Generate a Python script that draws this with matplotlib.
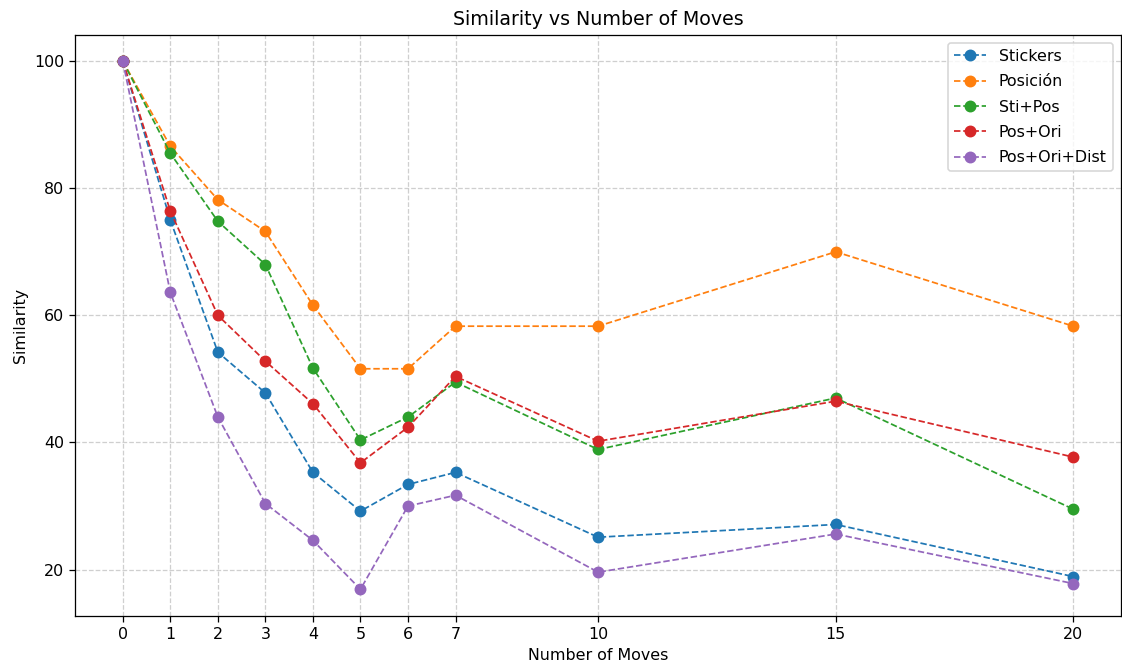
import matplotlib
matplotlib.use('Agg')
import matplotlib.pyplot as plt

# moves and similarity for each method
moves = [0, 1, 2, 3, 4, 5, 6, 7, 10, 15, 20]

stickers = [100, 75.0, 54.2, 47.8, 35.3, 29.2, 33.4, 35.3, 25.1, 27.1, 18.9]
posicion = [100, 86.6, 78.2, 73.2, 61.6, 51.6, 51.6, 58.3, 58.3, 70.0, 58.3]
sti_pos = [100, 85.5, 74.8, 68.0, 51.7, 40.4, 44.0, 49.5, 38.9, 47.0, 29.5]
pos_ori = [100, 76.4, 60.0, 52.8, 46.1, 36.8, 42.4, 50.4, 40.2, 46.5, 37.7]
pos_ori_dist = [100, 63.6, 44.0, 30.4, 24.6, 16.9, 30.0, 31.7, 19.6, 25.6, 17.8]

series = [
    ('Stickers', stickers),
    ('Posición', posicion),
    ('Sti+Pos', sti_pos),
    ('Pos+Ori', pos_ori),
    ('Pos+Ori+Dist', pos_ori_dist),
]

DPI = 114
fig, ax = plt.subplots(figsize=(1122 / DPI, 664 / DPI), dpi=DPI)
fig.subplots_adjust(left=0.0671, right=0.999, top=0.9477, bottom=0.0727)

for name, vals in series:
    ax.plot(moves, vals, marker='o', linestyle='--', linewidth=1.1, markersize=6.5, label=name)

ax.set_xticks(moves)
ax.set_title('Similarity vs Number of Moves')
ax.set_xlabel('Number of Moves')
ax.set_ylabel('Similarity')
ax.grid(True, linestyle='--', alpha=0.6)
ax.legend(loc='upper right', labelspacing=0.65)

plt.savefig('out.png', dpi=DPI)
